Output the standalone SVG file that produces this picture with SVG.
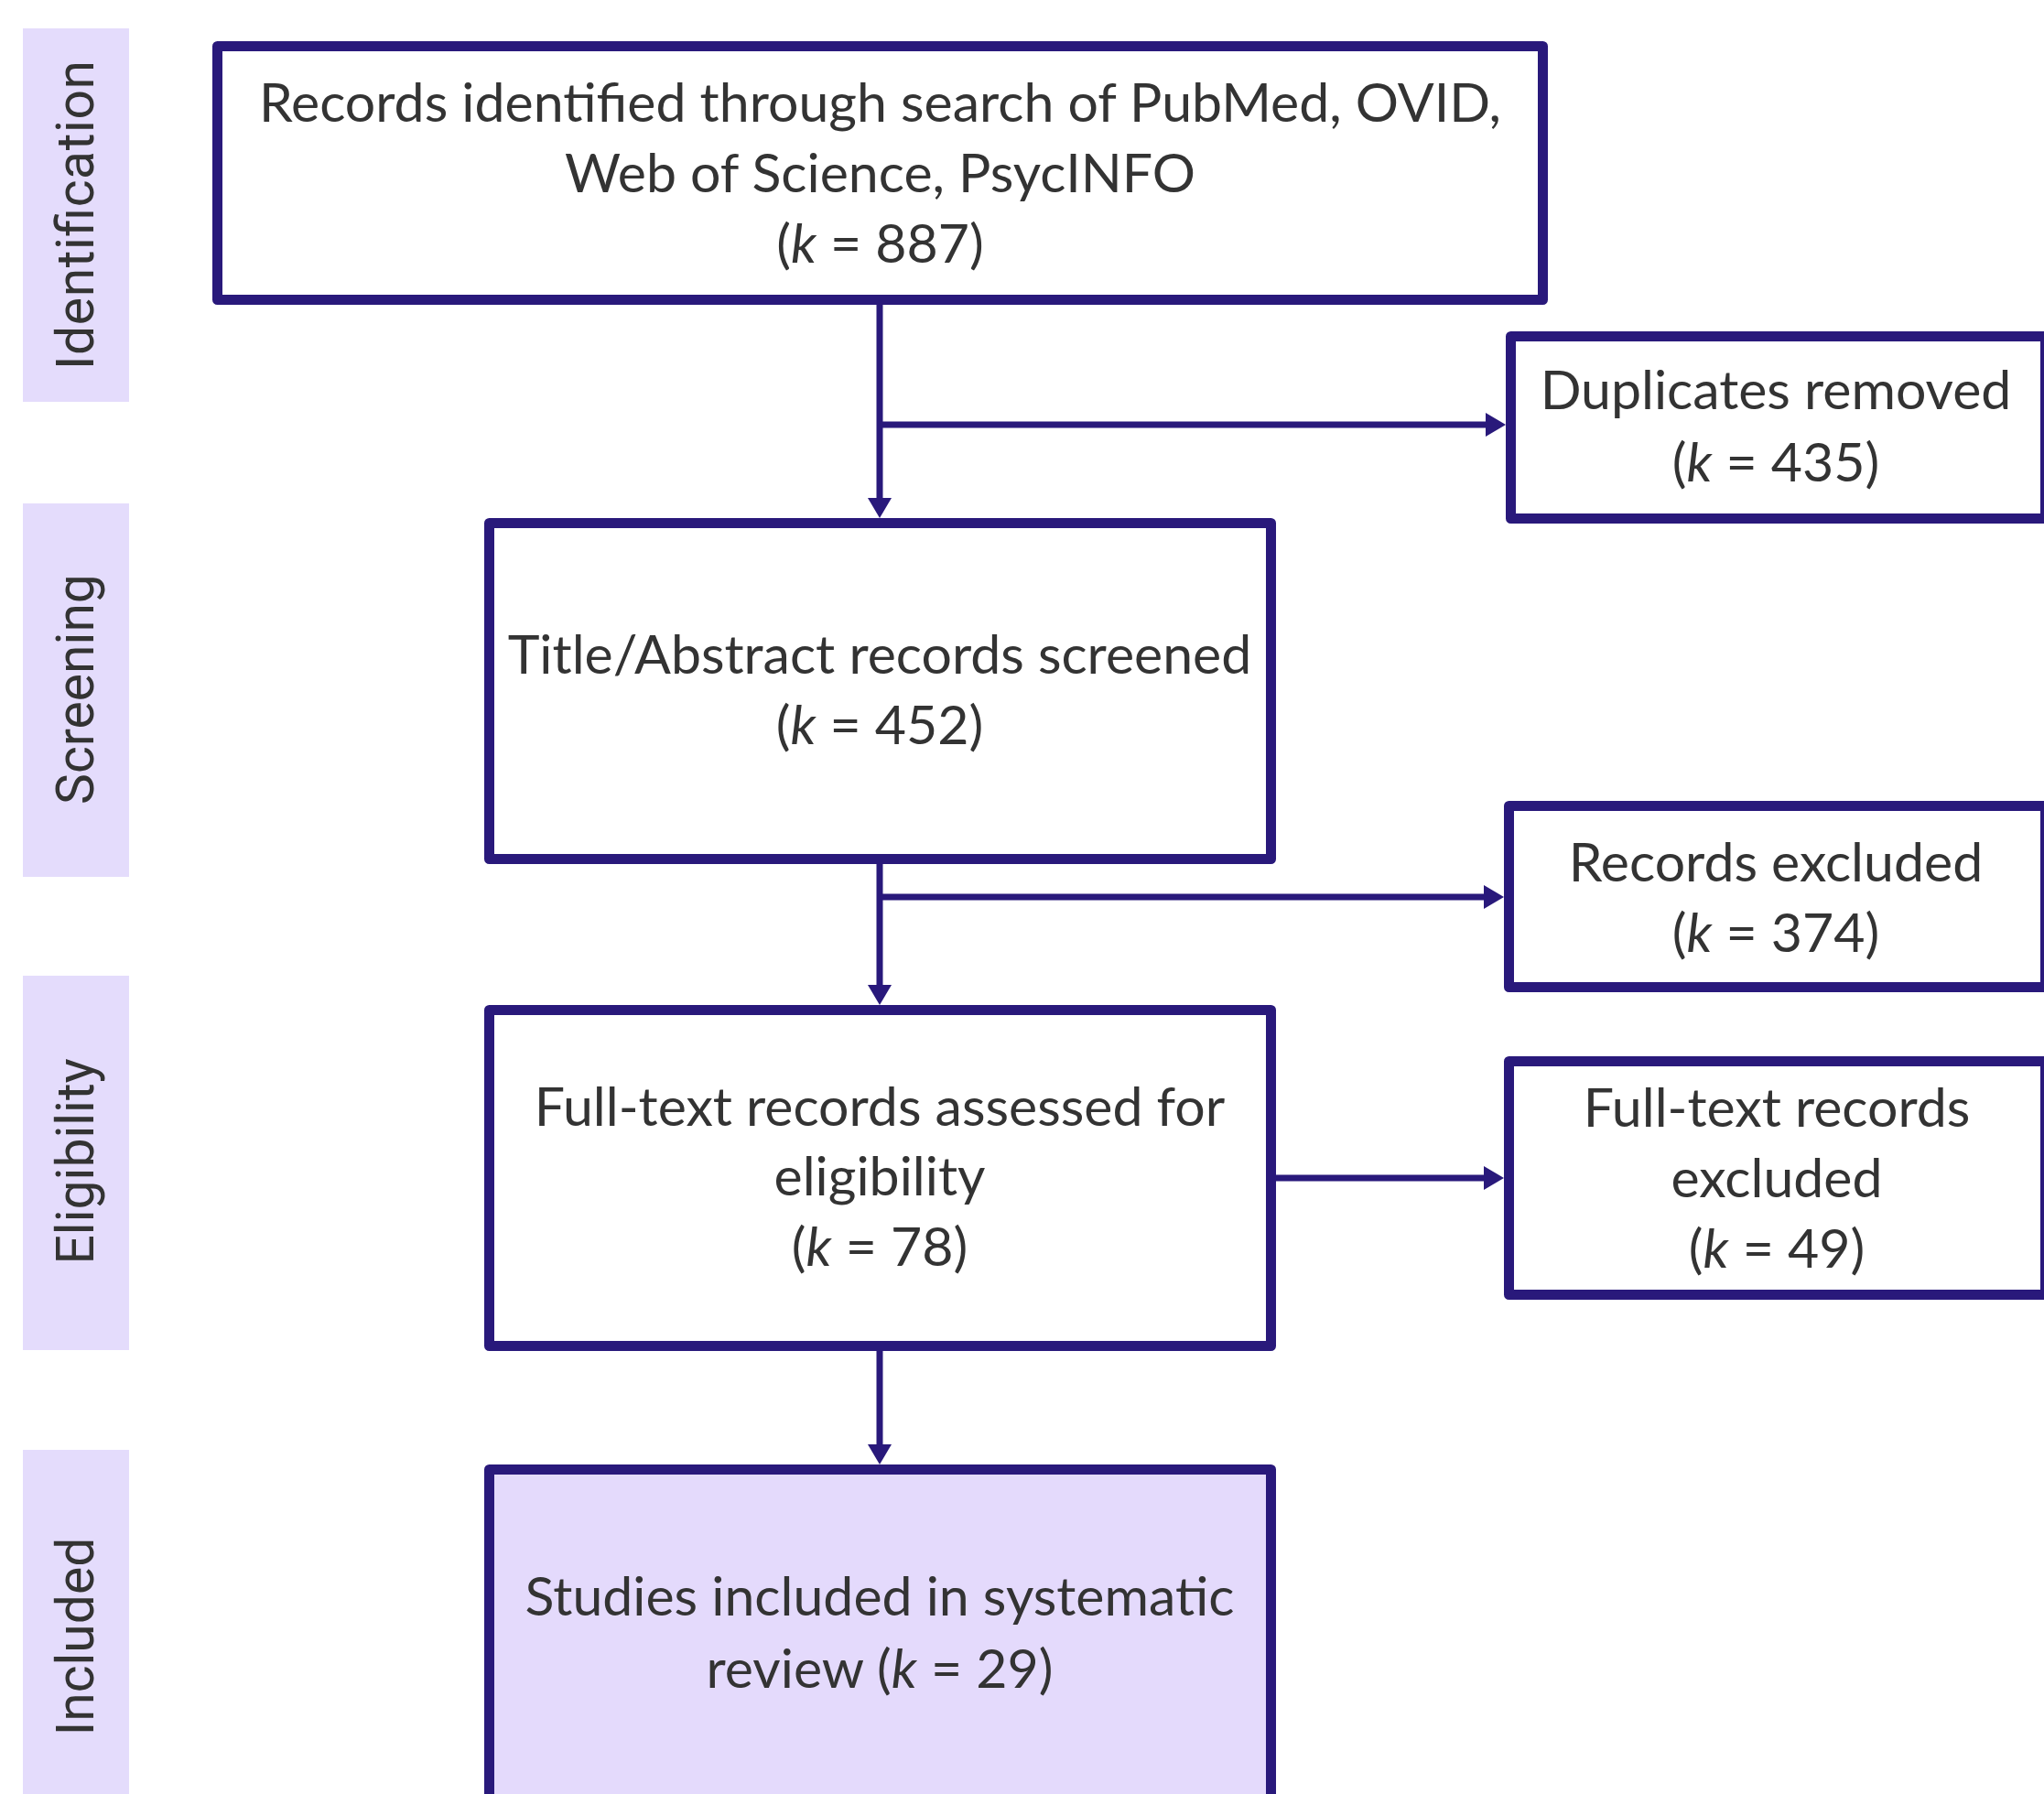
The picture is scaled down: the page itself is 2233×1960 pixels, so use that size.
<svg xmlns="http://www.w3.org/2000/svg" width="2233" height="1960" viewBox="0 0 2233 1960">
<defs>
<style>
.band{fill:#E4DCFC;}
.lbl{font-family:Roboto,"Open Sans","DejaVu Sans",sans-serif;font-size:57px;fill:#333333;text-anchor:middle;}
.box{fill:#FFFFFF;stroke:#29197B;stroke-width:11;stroke-linejoin:round;}
.fin{fill:#E4DAFC;}
.txt{font-family:Lato,"Open Sans","Liberation Sans",sans-serif;font-size:59px;fill:#333333;text-anchor:middle;}
.con{fill:none;stroke:#29197B;stroke-width:7;}
</style>
<marker id="ah" markerUnits="userSpaceOnUse" markerWidth="22" markerHeight="26" viewBox="0 0 22 26" refX="12" refY="13" orient="auto">
<path d="M0,0 L22,13 L0,26 z" fill="#29197B"/>
</marker>
</defs>
<rect width="2233" height="1960" fill="#FFFFFF"/>

<g id="phase-identification">
<rect class="band" x="25" y="31" width="116" height="408"/>
<text class="lbl" transform="translate(102,235) rotate(-90)" textLength="338">Identification</text>
</g>
<g id="phase-screening">
<rect class="band" x="25" y="550" width="116" height="408"/>
<text class="lbl" transform="translate(102,753) rotate(-90)">Screening</text>
</g>
<g id="phase-eligibility">
<rect class="band" x="25" y="1066" width="116" height="409"/>
<text class="lbl" transform="translate(102,1269) rotate(-90)">Eligibility</text>
</g>
<g id="phase-included">
<rect class="band" x="25" y="1584" width="116" height="408"/>
<text class="lbl" transform="translate(102,1788) rotate(-90)">Included</text>
</g>

<g id="connectors">
<path class="con" d="M961,333 V556" marker-end="url(#ah)"/>
<path class="con" d="M961,464 H1635" marker-end="url(#ah)"/>
<path class="con" d="M961,944 V1088" marker-end="url(#ah)"/>
<path class="con" d="M961,980 H1633" marker-end="url(#ah)"/>
<path class="con" d="M1394,1287 H1633" marker-end="url(#ah)"/>
<path class="con" d="M961,1476 V1590" marker-end="url(#ah)"/>
</g>

<g id="node-identified">
<rect class="box" x="237.5" y="50.5" width="1448" height="277"/>
<text class="txt" x="961.5" y="133">Records identified through search of PubMed, OVID,</text>
<text class="txt" x="961.5" y="210">Web of Science, PsycINFO</text>
<text class="txt" x="961.5" y="287">(<tspan font-style="italic">k</tspan> = 887)</text>
</g>
<g id="node-duplicates">
<rect class="box" x="1650.5" y="367.5" width="584" height="199"/>
<text class="txt" x="1940" y="447">Duplicates removed</text>
<text class="txt" x="1940" y="526">(<tspan font-style="italic">k</tspan> = 435)</text>
</g>
<g id="node-screened">
<rect class="box" x="534.5" y="571.5" width="854" height="367"/>
<text class="txt" x="961" y="736">Title/Abstract records screened</text>
<text class="txt" x="961" y="813">(<tspan font-style="italic">k</tspan> = 452)</text>
</g>
<g id="node-excluded">
<rect class="box" x="1648.5" y="880.5" width="586" height="198"/>
<text class="txt" x="1940" y="963">Records excluded</text>
<text class="txt" x="1940" y="1040">(<tspan font-style="italic">k</tspan> = 374)</text>
</g>
<g id="node-fulltext">
<rect class="box" x="534.5" y="1103.5" width="854" height="367"/>
<text class="txt" x="961" y="1230">Full-text records assessed for</text>
<text class="txt" x="961" y="1306">eligibility</text>
<text class="txt" x="961" y="1383">(<tspan font-style="italic">k</tspan> = 78)</text>
</g>
<g id="node-fulltext-excluded">
<rect class="box" x="1648.5" y="1159.5" width="586" height="255"/>
<text class="txt" x="1941" y="1231">Full-text records</text>
<text class="txt" x="1941" y="1308">excluded</text>
<text class="txt" x="1941" y="1385">(<tspan font-style="italic">k</tspan> = 49)</text>
</g>
<g id="node-included">
<rect class="box fin" x="534.5" y="1605.5" width="854" height="420"/>
<text class="txt" x="961" y="1765">Studies included in systematic</text>
<text class="txt" x="961" y="1844">review (<tspan font-style="italic">k</tspan> = 29)</text>
</g>
</svg>
